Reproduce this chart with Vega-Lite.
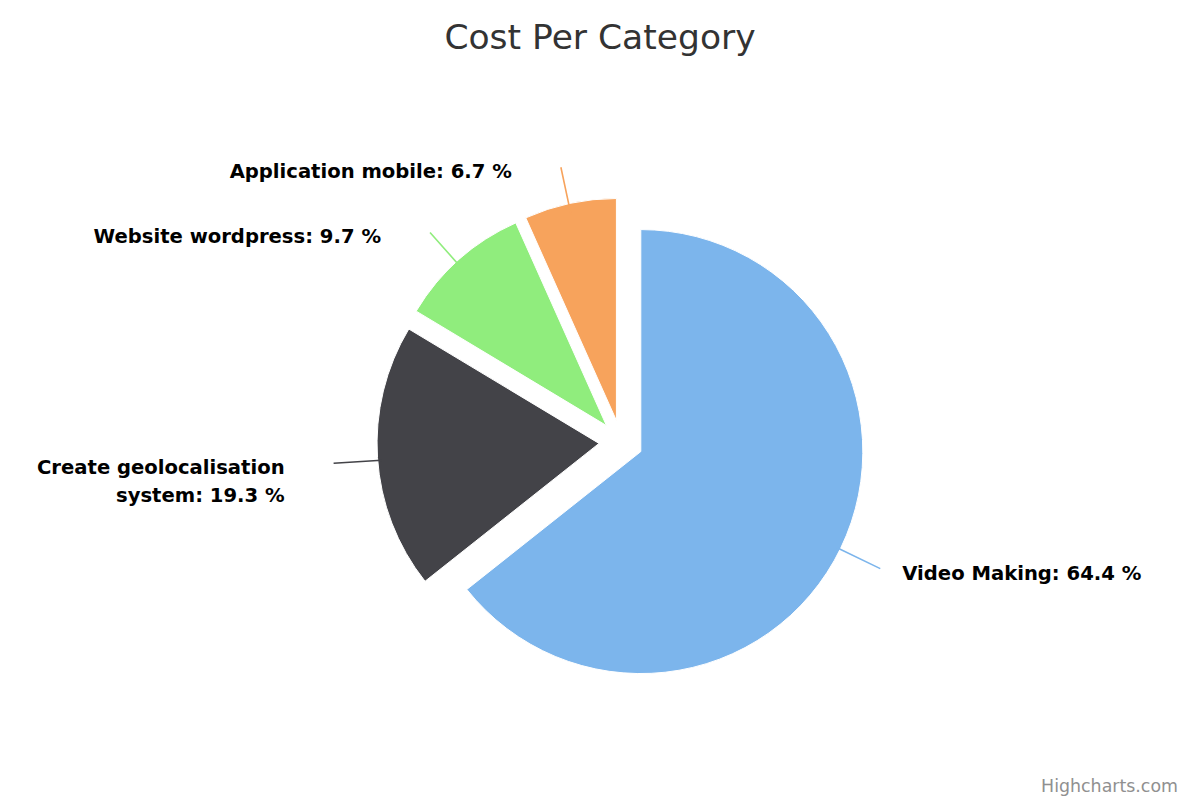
{
  "$schema": "https://vega.github.io/schema/vega-lite/v6.json",
  "autosize": {"type": "none"},
  "width": 1158,
  "height": 716,
  "padding": {"left": 42, "top": 84, "right": 0, "bottom": 0},
  "background": "#ffffff",
  "title": {
    "text": "Cost Per Category",
    "font": "DejaVu Sans",
    "fontSize": 34.5,
    "fontWeight": "normal",
    "color": "#333333",
    "anchor": "middle",
    "baseline": "alphabetic",
    "offset": 1,
    "dx": -21
  },
  "data": {
    "values": [
      {"category": "Video Making", "value": 64.4, "label": "Video Making: 64.4 %"},
      {"category": "Create geolocalisation system", "value": 19.3, "label": "Create geolocalisation\nsystem: 19.3 %"},
      {"category": "Website wordpress", "value": 9.7, "label": "Website wordpress: 9.7 %"},
      {"category": "Application mobile", "value": 6.7, "label": "Application mobile: 6.7 %"}
    ]
  },
  "transform": [
    {"stack": "value", "groupby": [], "sort": [{"field": "value", "order": "descending"}], "offset": "normalize", "as": ["v0", "v1"]}
  ],
  "layer": [
    {
      "mark": {
        "type": "arc",
        "radius": 222,
        "stroke": "#ffffff",
        "strokeWidth": 1,
        "x": {"expr": "width/2 + 22*sin(PI*(datum.v0 + datum.v1))"},
        "y": {"expr": "height/2 - 22*cos(PI*(datum.v0 + datum.v1))"}
      },
      "encoding": {
        "theta": {"field": "value", "type": "quantitative", "stack": true},
        "order": {"field": "value", "type": "quantitative", "sort": "descending"},
        "color": {
          "field": "category",
          "type": "nominal",
          "scale": {
            "domain": ["Video Making", "Create geolocalisation system", "Website wordpress", "Application mobile"],
            "range": ["#7cb5ec", "#434348", "#90ed7d", "#f7a35c"]
          },
          "legend": null
        }
      }
    },
    {
      "mark": {
        "type": "arc",
        "filled": false,
        "strokeWidth": 1.6,
        "radius": 288,
        "radius2": 240,
        "theta": {"expr": "PI*(datum.v0 + datum.v1)"},
        "theta2": {"expr": "PI*(datum.v0 + datum.v1)"},
        "y": {"expr": "height/2 + 3 + 4*cos(PI*(datum.v0 + datum.v1))"}
      },
      "encoding": {
        "color": {"field": "category", "type": "nominal", "legend": null}
      }
    },
    {
      "mark": {
        "type": "text",
        "radius": 288,
        "font": "DejaVu Sans",
        "fontSize": 19.6,
        "fontWeight": "bold",
        "color": "#000000",
        "lineBreak": "\n",
        "lineHeight": 28,
        "baseline": "top",
        "dy": {"expr": "-1 + 4*cos(PI*(datum.v0 + datum.v1))"},
        "align": {"expr": "datum.v0 + datum.v1 < 1 ? 'left' : 'right'"},
        "dx": {"expr": "datum.v0 + datum.v1 < 1 ? 22 : -49"}
      },
      "encoding": {
        "theta": {"field": "value", "type": "quantitative", "stack": true},
        "order": {"field": "value", "type": "quantitative", "sort": "descending"},
        "text": {"field": "label", "type": "nominal"}
      }
    },
    {
      "data": {"values": [{"credit": "Highcharts.com"}]},
      "mark": {
        "type": "text",
        "font": "DejaVu Sans",
        "fontSize": 17.4,
        "color": "#909090",
        "align": "right",
        "baseline": "alphabetic",
        "x": {"expr": "width - 22"},
        "y": {"expr": "height - 8"}
      },
      "encoding": {
        "text": {"field": "credit", "type": "nominal"}
      }
    }
  ]
}
